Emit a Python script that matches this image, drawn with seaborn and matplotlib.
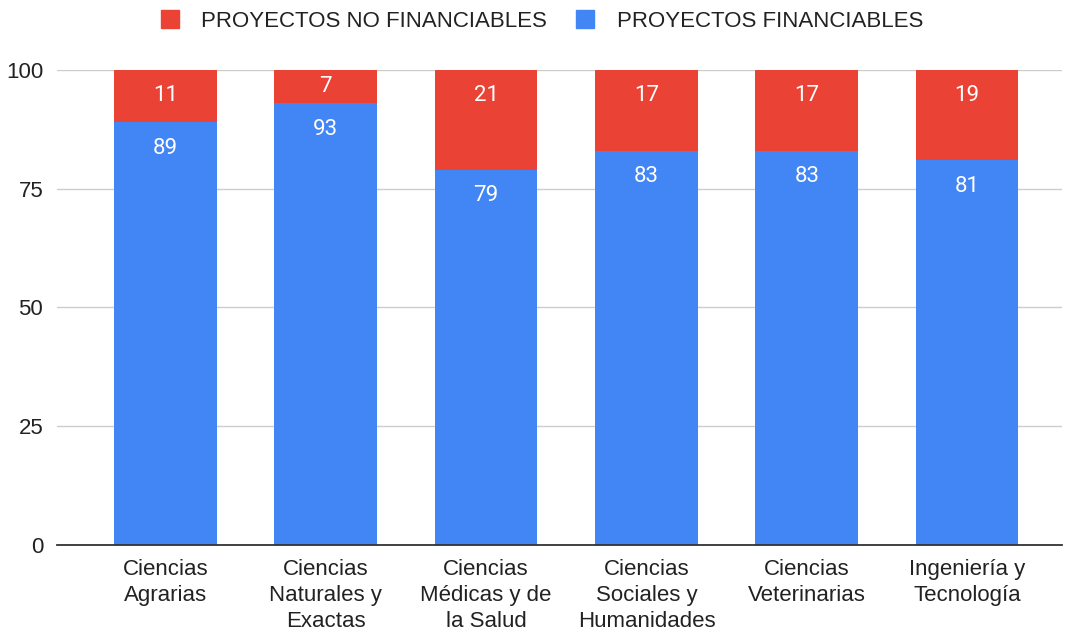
import pandas as pd
import numpy as np
import matplotlib
matplotlib.use("Agg")
import matplotlib.pyplot as plt
from matplotlib.lines import Line2D
import seaborn as sns

# datos
categorias = [
    "Ciencias\nAgrarias",
    "Ciencias\nNaturales y\nExactas",
    "Ciencias\nMédicas y de\nla Salud",
    "Ciencias\nSociales y\nHumanidades",
    "Ciencias\nVeterinarias",
    "Ingeniería y\nTecnología",
]
financiables = [89, 93, 79, 83, 83, 81]
no_financiables = [11, 7, 21, 17, 17, 19]

ROJO = "#EA4335"
AZUL = "#4285F4"

df = pd.DataFrame({
    "Categoria": categorias,
    "fin": financiables,
    "nofin": no_financiables,
})
df["total"] = df["fin"] + df["nofin"]

sns.set_style("white")
plt.rcParams["font.family"] = ["Liberation Sans", "DejaVu Sans"]

fig = plt.figure(figsize=(10.66, 6.34), dpi=100)
ax = fig.add_axes([0.0535, 0.1404, 0.9425, 0.7492])

sns.barplot(data=df, x="Categoria", y="total", color=ROJO, width=0.64,
            saturation=1, linewidth=0, ax=ax, zorder=2)
sns.barplot(data=df, x="Categoria", y="fin", color=AZUL, width=0.64,
            saturation=1, linewidth=0, ax=ax, zorder=3)

# etiquetas de valores
for i, row in df.iterrows():
    top_fin = row["fin"]
    ax.text(i, top_fin - min(5.5, top_fin / 2), str(row["fin"]),
            ha="center", va="center", color="white", fontsize=16,
            family="Roboto", zorder=5)
    top_tot = row["total"]
    ax.text(i, top_tot - min(5.4, row["nofin"] / 2), str(row["nofin"]),
            ha="center", va="center", color="white", fontsize=16,
            family="Roboto", zorder=5)

ax.set_ylim(0, 100)
ax.set_xlim(-0.676, 5.59)
ax.set_yticks([0, 25, 50, 75, 100])
ax.yaxis.grid(True, color="#CCCCCC", linewidth=1, zorder=0)
ax.set_axisbelow(True)
ax.tick_params(axis="both", length=0, labelsize=16, colors="#222222")
ax.tick_params(axis="y", pad=10)
ax.tick_params(axis="x", pad=10)
for lbl in ax.get_xticklabels():
    lbl.set_linespacing(1.32)
ax.set_xlabel("")
ax.set_ylabel("")
for s in ["top", "right", "left"]:
    ax.spines[s].set_visible(False)
ax.spines["bottom"].set_color("#333333")
ax.spines["bottom"].set_linewidth(1.3)
ax.spines["bottom"].set_zorder(6)

handles = [
    Line2D([], [], marker="s", linestyle="", markersize=13, color=ROJO),
    Line2D([], [], marker="s", linestyle="", markersize=13, color=AZUL),
]
fig.legend(handles, ["PROYECTOS NO FINANCIABLES", "PROYECTOS FINANCIABLES"],
           loc="upper center", bbox_to_anchor=(0.502, 1.014), ncol=2,
           frameon=False, fontsize=16, handletextpad=0.4, columnspacing=0.75,
           labelcolor="#222222")

fig.savefig("out.png", dpi=100)
